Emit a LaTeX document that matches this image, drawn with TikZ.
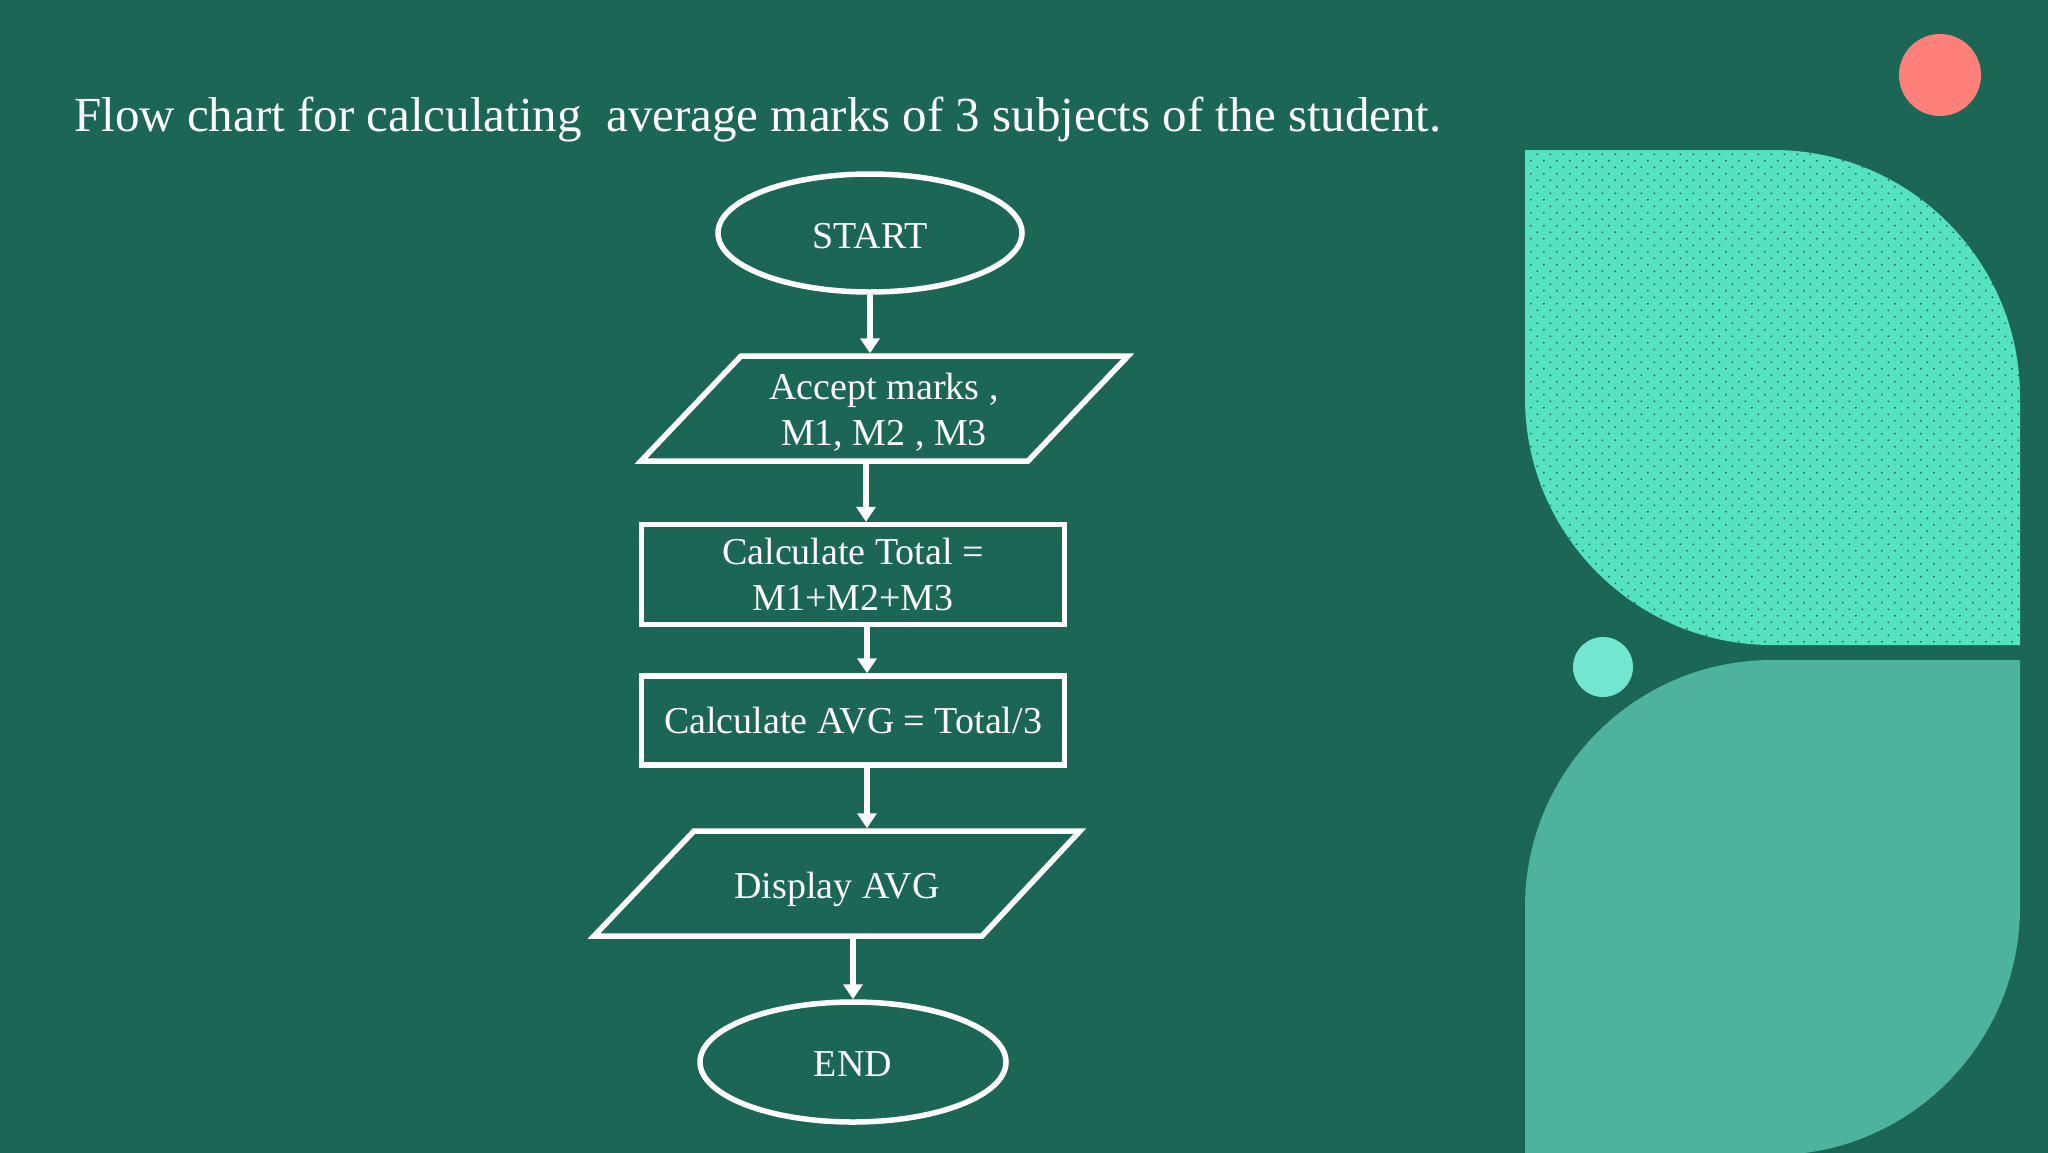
\documentclass[tikz,border=0pt]{standalone}
\usepackage{fontspec}
\setmainfont{Liberation Serif}
\usetikzlibrary{arrows.meta,shapes.geometric}
\definecolor{bg}{HTML}{1C6656}
\definecolor{mint}{HTML}{55E2C0}
\definecolor{dotc}{HTML}{1A6555}
\definecolor{sea}{HTML}{4DB39E}
\definecolor{lightmint}{HTML}{72E6CE}
\definecolor{coral}{HTML}{FF7F7B}
\newcommand\boxfont{\fontsize{38}{46.5}\selectfont}
\tikzset{
  lw/.style={line width=5.5pt, draw=white},
  term/.style={ellipse, lw, inner sep=0pt, text=white, font=\boxfont},
  procbox/.style={rectangle, lw, inner sep=0pt, text=white, font=\boxfont, align=center, minimum width=423pt},
  iopath/.style={lw, line join=miter},
  lbl/.style={text=white, font=\boxfont, inner sep=0pt, align=center},
  arr/.style={draw=white, line width=5.5pt, -{Triangle[width=19pt,length=15pt]}},
}
\begin{document}
\begin{tikzpicture}[x=1pt,y=-1pt]
\useasboundingbox (0,0) rectangle (2048,1152);
\fill[bg] (-6,-6) rectangle (2054,1158);

% decorative shapes
\fill[mint] (1525,150) -- (1773,150) .. controls (1909.4,150) and (2020,260.6) .. (2020,397) -- (2020,645) -- (1772,645) .. controls (1635.6,645) and (1525,534.4) .. (1525,398) -- cycle;
\begin{scope}
  \clip (1525,150) -- (1773,150) .. controls (1909.4,150) and (2020,260.6) .. (2020,397) -- (2020,645) -- (1772,645) .. controls (1635.6,645) and (1525,534.4) .. (1525,398) -- cycle;
  \fill[dotc] \foreach \k in {0,...,76} { \foreach \j in {0,...,38} { ({1537.3-6.5*mod(\k,2)+13*\j},{154.3+6.5*\k}) circle (1pt) } };
\end{scope}
\fill[sea] (1525,1165) -- (1525,907) .. controls (1525,770.6) and (1635.6,660) .. (1772,660) -- (2020,660) -- (2020,907) .. controls (2020,1043.6) and (1909.4,1155) .. (1773,1155) -- (1773,1165) -- cycle;
\fill[lightmint] (1603,667) circle (30pt);
\fill[coral] (1940,75) circle (41pt);

% title
\node[anchor=base west, text=white, font=\fontsize{49}{60}\selectfont, inner sep=0pt] (title) at (74,131) {Flow chart for calculating\ \ average marks of 3 subjects of the student.};

% flowchart
\node[term, minimum width=304pt, minimum height=118pt] (start) at (870,233) {\raisebox{-3pt}[\height][\depth]{START}};

\path[iopath] (741,356) -- (1128,356) -- (1028,461) -- (641,461) -- cycle;
\node[lbl] (in1) at (884,412) {Accept marks ,\\M1, M2 , M3};
\coordinate (in1top) at (870,353.25);
\coordinate (in1bot) at (866,463.75);

\node[procbox, minimum height=100pt] (total) at (853,574.5) {Calculate Total =\\M1+M2+M3};
\node[procbox, minimum height=89pt] (avg) at (853,720.5) {Calculate AVG = Total/3};

\path[iopath] (694,831) -- (1080,831) -- (982,936) -- (594,936) -- cycle;
\node[lbl] (out1) at (837,889.5) {Display AVG};
\coordinate (out1top) at (867,828.25);
\coordinate (out1bot) at (853,938.75);

\node[term, minimum width=306pt, minimum height=120pt] (end) at (853,1062) {\raisebox{-2pt}[\height][\depth]{END}};

\draw[arr] (start.south) -- (in1top);
\draw[arr] (in1bot) -- (in1bot |- total.north);
\draw[arr] ([xshift=14pt]total.south) -- ([xshift=14pt]avg.north);
\draw[arr] ([xshift=14pt]avg.south) -- (out1top);
\draw[arr] (out1bot) -- (end.north);
\end{tikzpicture}
\end{document}
